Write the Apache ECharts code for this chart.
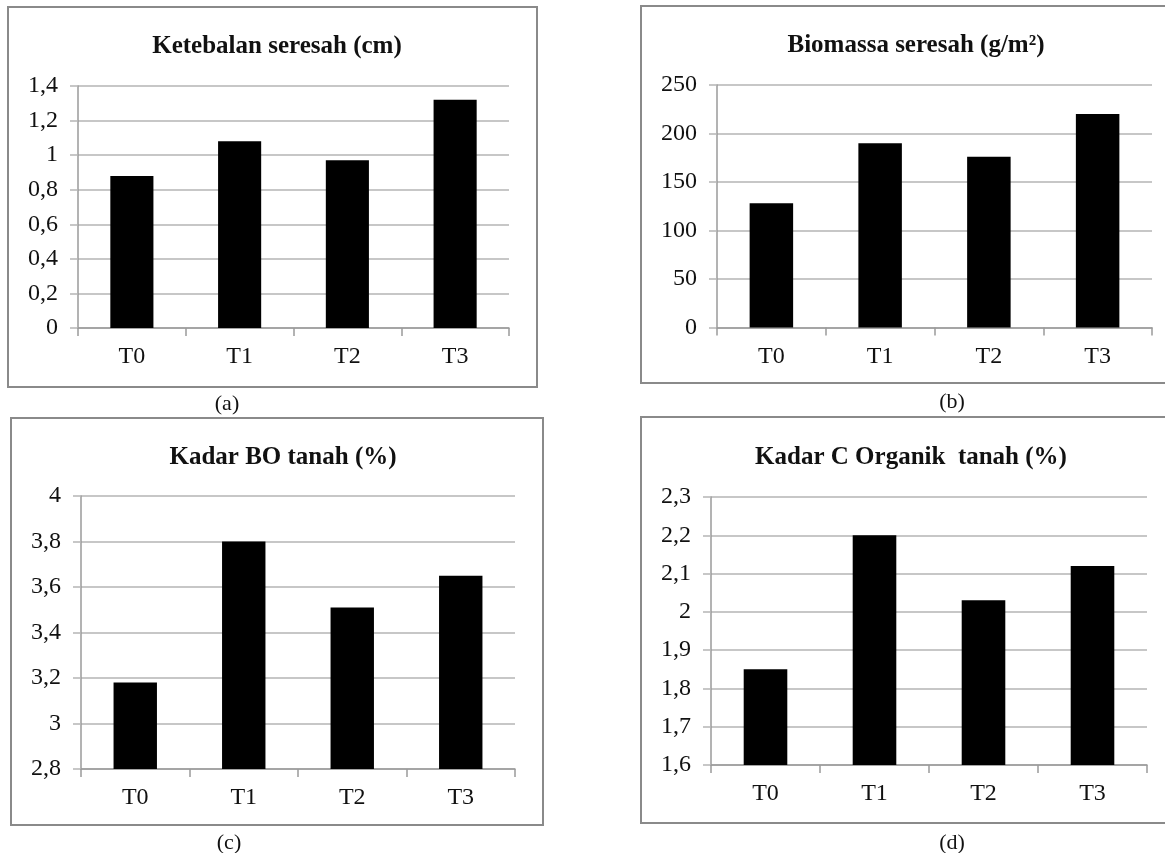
<!DOCTYPE html>
<html>
<head>
<meta charset="utf-8">
<script src="https://cdn.jsdelivr.net/npm/echarts@6/dist/echarts.min.js"></script>
<style>
html,body{margin:0;padding:0;background:#fff;}
#c{width:1165px;height:853px;}
</style>
</head>
<body>
<div id="c"></div>
<script>
// ---- data ----
const categories = ['T0', 'T1', 'T2', 'T3'];

const titleA = 'Ketebalan seresah (cm)';
const valuesA = [0.88, 1.08, 0.97, 1.32];
const ticksA = [0, 0.2, 0.4, 0.6, 0.8, 1, 1.2, 1.4];

const titleB = 'Biomassa seresah (g/m²)';
const valuesB = [128, 190, 176, 220];
const ticksB = [0, 50, 100, 150, 200, 250];

const titleC = 'Kadar BO tanah (%)';
const valuesC = [3.18, 3.80, 3.51, 3.65];
const ticksC = [2.8, 3, 3.2, 3.4, 3.6, 3.8, 4];

const titleD = 'Kadar C Organik  tanah (%)';
const valuesD = [1.85, 2.20, 2.03, 2.12];
const ticksD = [1.6, 1.7, 1.8, 1.9, 2, 2.1, 2.2, 2.3];

const captions = ['(a)', '(b)', '(c)', '(d)'];

// ---- layout / style ----
const FONT = '"Liberation Serif", "Times New Roman", serif';
const panels = [
  {title: titleA, values: valuesA, ticks: ticksA, grid: {left: 78, top: 86, width: 431, height: 242}, tx: 272, ty: 29, box: [8, 7, 529, 380], cap: [227, 404]},
  {title: titleB, values: valuesB, ticks: ticksB, grid: {left: 717, top: 85, width: 435, height: 242.5}, tx: 911, ty: 28, box: [641, 6, 545, 377], cap: [952, 402]},
  {title: titleC, values: valuesC, ticks: ticksC, grid: {left: 81, top: 496, width: 434, height: 273}, tx: 278, ty: 440, box: [11, 418, 532, 407], cap: [229, 843]},
  {title: titleD, values: valuesD, ticks: ticksD, grid: {left: 711, top: 497, width: 436, height: 268}, tx: 906, ty: 440, box: [641, 417, 545, 406], cap: [952, 843]}
];

function fmt(v) {
  return String(Math.round(v * 10) / 10).replace('.', ',');
}

const option = {
  animation: false,
  backgroundColor: '#fff',
  title: panels.map(p => ({
    text: p.title,
    left: p.tx,
    top: p.ty,
    textAlign: 'center',
    textStyle: {fontFamily: FONT, fontSize: 25, fontWeight: 'bold', color: '#111'}
  })),
  grid: panels.map(p => Object.assign({containLabel: false}, p.grid)),
  xAxis: panels.map((p, i) => ({
    type: 'category',
    gridIndex: i,
    data: categories,
    boundaryGap: true,
    axisLine: {show: true, lineStyle: {color: '#9a9a9a', width: 1.5}},
    axisTick: {show: true, length: 8, lineStyle: {color: '#9a9a9a', width: 1.5}},
    axisLabel: {margin: 17, fontFamily: FONT, fontSize: 24, color: '#111'},
    splitLine: {show: false}
  })),
  yAxis: panels.map((p, i) => {
    const mn = p.ticks[0], mx = p.ticks[p.ticks.length - 1];
    const iv = Math.round((p.ticks[1] - p.ticks[0]) * 1000) / 1000;
    return {
      type: 'value',
      gridIndex: i,
      min: mn, max: mx, interval: iv,
      axisLine: {show: true, lineStyle: {color: '#9a9a9a', width: 1.5}},
      axisTick: {show: true, length: 8, lineStyle: {color: '#b5b5b5', width: 1.5}},
      axisLabel: {margin: 20, fontFamily: FONT, fontSize: 24, color: '#111', formatter: fmt},
      splitLine: {show: true, lineStyle: {color: '#b5b5b5', width: 1.5}}
    };
  }),
  series: panels.map((p, i) => ({
    type: 'bar',
    xAxisIndex: i,
    yAxisIndex: i,
    data: p.values,
    barCategoryGap: '60%',
    itemStyle: {color: '#000'}
  })),
  graphic: [].concat(
    panels.map(p => ({
      type: 'rect',
      shape: {x: p.box[0], y: p.box[1], width: p.box[2], height: p.box[3]},
      style: {fill: null, stroke: '#8a8a8a', lineWidth: 2},
      silent: true,
      z: 100
    })),
    panels.map((p, i) => ({
      type: 'text',
      x: p.cap[0], y: p.cap[1],
      style: {text: captions[i], font: '22px ' + FONT, fill: '#111', textAlign: 'center', textVerticalAlign: 'middle'},
      silent: true
    }))
  )
};

const chart = echarts.init(document.getElementById('c'), null, {renderer: 'canvas'});
chart.setOption(option);
</script>
</body>
</html>
